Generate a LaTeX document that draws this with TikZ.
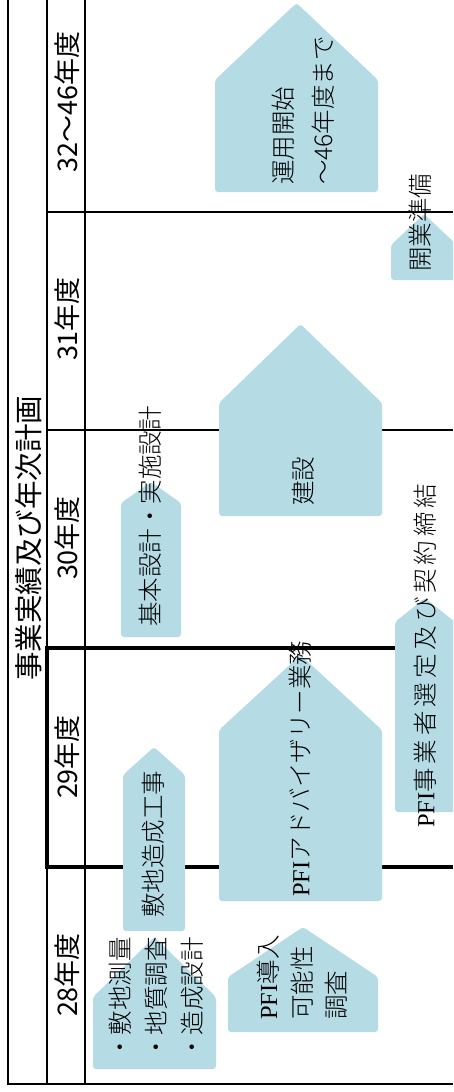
\documentclass[tikz,border=0pt]{standalone}
\usepackage{fontspec}
\newfontfamily\jp{Noto Sans CJK JP}
\IfFontExistsTF{Noto Sans CJK JP Light}
  {\newfontfamily\jpm{Noto Sans CJK JP Light}\newfontfamily\jpmw[LetterSpace=16]{Noto Sans CJK JP Light}}
  {\newfontfamily\jpm{Noto Sans CJK JP}\newfontfamily\jpmw[LetterSpace=16]{Noto Sans CJK JP}}
\newfontfamily\lat{Liberation Serif}
\definecolor{boxfill}{RGB}{181,219,229}
\newcommand\housebox[5]{\fill[boxfill, rounded corners=3pt] (#1,#5) -- (#1,#3) -- ({(#1+#2)/2},#4) -- (#2,#3) -- (#2,#5) -- cycle;}
\begin{document}
\begin{tikzpicture}[x=1pt,y=-1pt,
  frameline/.style={line width=1.6pt, black},
  rowline/.style={line width=1.2pt, black},
  boldline/.style={line width=4.6pt, black, line join=miter},
  hdr/.style={rotate=90, inner sep=0pt, font=\jp\fontsize{27}{30}\selectfont},
  lbl/.style={rotate=90, inner sep=0pt, anchor=west, align=left, font=\jpm\fontsize{24.5}{36}\selectfont}]
\clip (0,0) rectangle (453,1092);
% grid
\draw[rowline] (47,212) -- (453,212);
\draw[rowline] (47,430) -- (453,430);
\draw[frameline] (8,0) -- (8,1084) -- (453,1084);
\draw[frameline] (47,0) -- (47,1084);
\draw[frameline] (85,0) -- (85,1084);
\draw[boldline] (453,648) -- (47,648) -- (47,867) -- (453,867);
% title and headers
\node[hdr, font=\jp\fontsize{28.5}{30}\selectfont] (title) at (29,538) {事業実績及び年次計画};
\node[hdr] (y32) at (67,102) {32～46年度};
\node[hdr] (y31) at (67,319) {31年度};
\node[hdr] (y30) at (67,538) {30年度};
\node[hdr] (y29) at (67,757) {29年度};
\node[hdr] (y28) at (67,975) {28年度};
% shapes
\housebox{215}{378}{80}{3}{192}
\housebox{391}{457}{245}{214}{280}
\housebox{219}{382}{403}{324}{516}
\housebox{121}{181}{503}{482}{637}
\housebox{123}{185}{775}{747}{931}
\housebox{219}{382}{730}{655}{901}
\housebox{395}{455}{622}{598}{812}
\housebox{93}{216}{997}{937}{1069}
\housebox{228}{378}{977}{927}{1032}
% texts
\node[lbl, font=\jpm\fontsize{24.5}{40}\selectfont] (t1) at (303,185) {運用開始\\～46年度まで};
\node[lbl] (t2) at (420,272) {開業準備};
\node[lbl] (t3) at (303,506) {建設};
\node[lbl] (t4) at (150,627) {基本設計・実施設計};
\node[lbl] (t5) at (153,918) {敷地造成工事};
\node[lbl] (t6) at (300,897) {{\lat PFI}アドバイザリー業務};
\node[lbl, font=\jpmw\fontsize{24.5}{36}\selectfont] (t7) at (425,828) {{\lat PFI}事業者選定及び契約締結};
\node[lbl] (t8) at (156,1060) {・敷地測量\\・地質調査\\・造成設計};
\node[lbl, font=\jpm\fontsize{24.5}{34}\selectfont] (t9) at (302,1020) {{\lat PFI}導入\\可能性\\調査};
\end{tikzpicture}
\end{document}
